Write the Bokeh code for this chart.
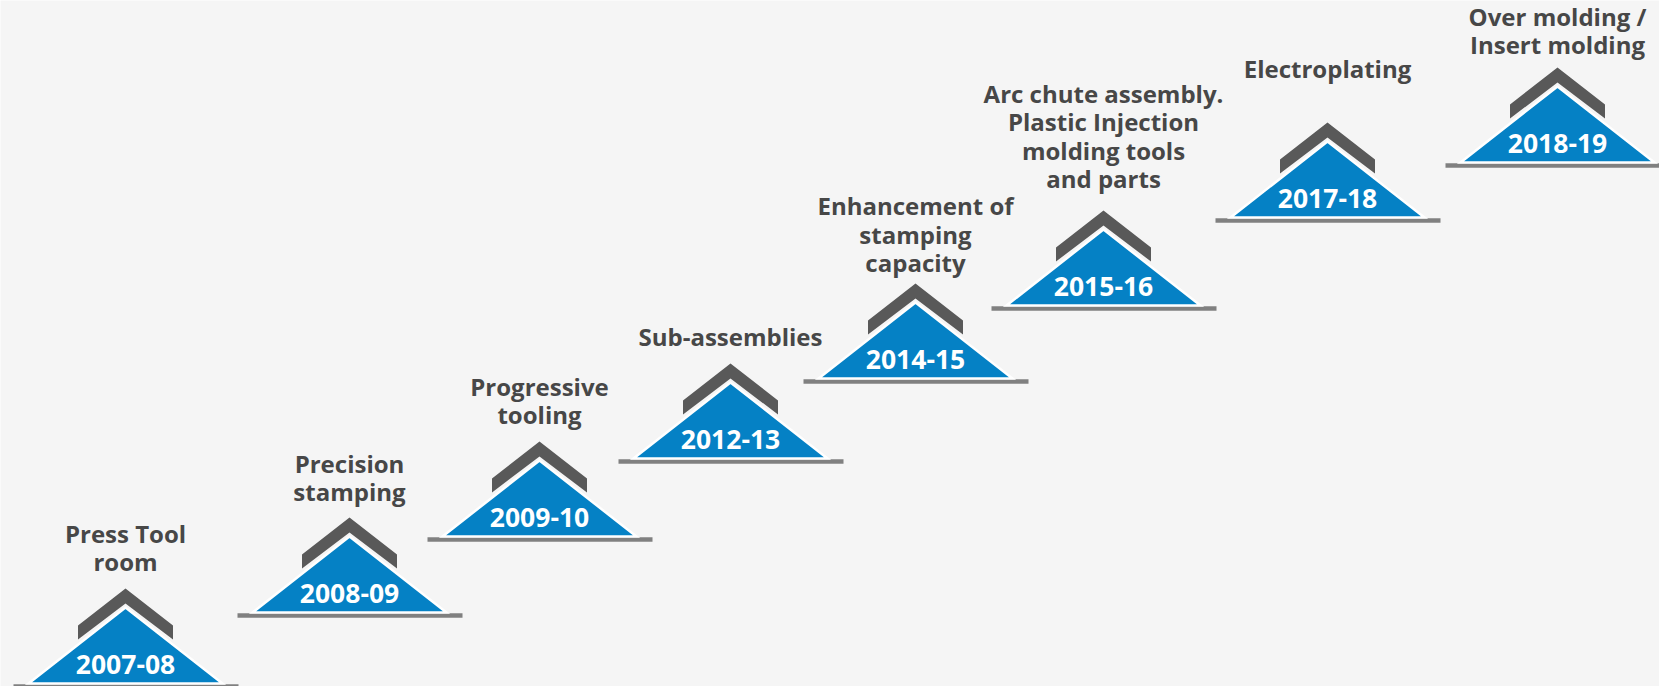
from bokeh.plotting import figure
from bokeh.models import Range1d, ColumnDataSource
from bokeh.core.properties import value
from bokeh.embed import file_html
from bokeh.resources import INLINE

# ---- data ----
years = ["2007-08", "2008-09", "2009-10", "2012-13", "2014-15", "2015-16", "2017-18", "2018-19"]
milestones = [
    "Press Tool\nroom",
    "Precision\nstamping",
    "Progressive\ntooling",
    "Sub-assemblies",
    "Enhancement of\nstamping\ncapacity",
    "Arc chute assembly.\nPlastic Injection\nmolding tools\nand parts",
    "Electroplating",
    "Over molding /\nInsert molding",
]
step_x = [125, 349, 539, 730, 915, 1103, 1327, 1557]
step_level = [683, 612, 536, 458, 378, 305, 217, 162]

# ---- layout constants (not data) ----
label_lift = [122, 121, 122, 122, 116, 127, 149, 118]   # centre of last label line above step
LINE_GAP = 28.5
BLUE = "#0581C5"
DARK = "#595959"
TEXT = "#474747"
LINE = "#808080"
BG = "#f5f5f5"
FONT = "Open Sans"

tri_xs, tri_ys, chev_xs, chev_ys = [], [], [], []
for cx, b in zip(step_x, step_level):
    tri_xs.append([cx - 97, cx, cx + 97])
    tri_ys.append([b, b - 76, b])
    chev_xs.append([cx - 47.5, cx, cx + 47.5, cx + 47.5, cx, cx - 47.5])
    chev_ys.append([b - 58, b - 95, b - 58, b - 44, b - 80, b - 44])

src = ColumnDataSource(dict(
    x=step_x, base=step_level, year=years,
    x0=[c - 112 for c in step_x], x1=[c + 113 for c in step_x],
    liney=[b + 3 for b in step_level],
    yeary=[b - 19 for b in step_level],
))

lx, ly, lt = [], [], []
for cx, b, lift, lab in zip(step_x, step_level, label_lift, milestones):
    lines = lab.split("\n")
    n = len(lines)
    for k, ln in enumerate(lines):
        lx.append(cx)
        ly.append(b - lift - (n - 1 - k) * LINE_GAP)
        lt.append(ln)
lab_src = ColumnDataSource(dict(x=lx, y=ly, text=lt))

p = figure(width=1659, height=686, x_range=Range1d(0, 1659), y_range=Range1d(686, 0),
           output_backend="svg", toolbar_location=None, min_border=0)
p.axis.visible = False
p.grid.visible = False
p.outline_line_color = None
p.background_fill_color = BG
p.border_fill_color = BG

p.segment(x0="x0", x1="x1", y0="liney", y1="liney", source=src, line_color=LINE, line_width=4.5)
p.patches(chev_xs, chev_ys, fill_color=DARK, line_color=None)
p.patches(tri_xs, tri_ys, fill_color=BLUE, line_color="white", line_width=2.5, line_join="miter")
p.text(x="x", y="yeary", text="year", source=src, text_color="white", text_font=value(FONT),
       text_font_style="bold", text_font_size="26.5px", text_align="center", text_baseline="middle")
p.text(x="x", y="y", text="text", source=lab_src, text_color=TEXT, text_font=value(FONT),
       text_font_style="bold", text_font_size="24px", text_align="center", text_baseline="middle")

open("out.html", "w").write(file_html(p, INLINE))
